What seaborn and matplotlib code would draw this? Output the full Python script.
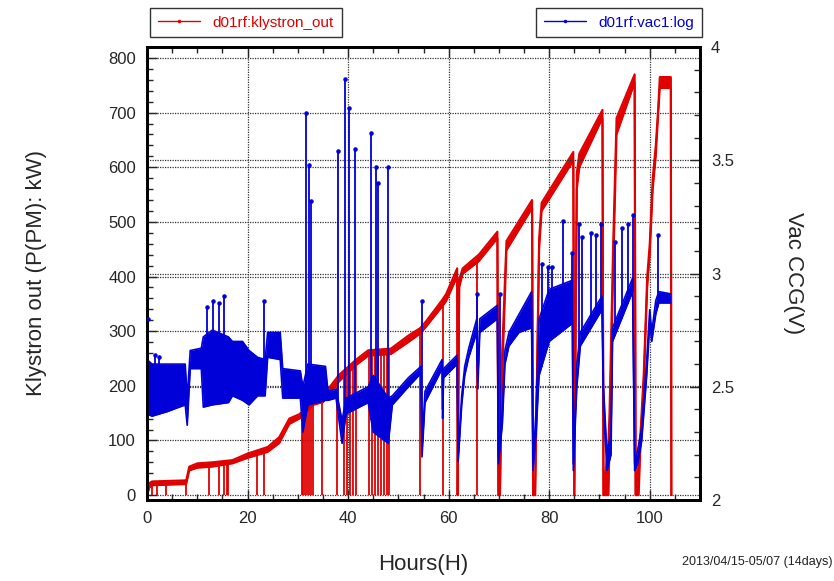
import numpy as np
import matplotlib
matplotlib.use("Agg")
import matplotlib.pyplot as plt
from matplotlib.lines import Line2D
from matplotlib.ticker import MultipleLocator
import seaborn as sns

# klystron output (kW): hour, lower / upper edge of the noisy band
red_h = [0, 0.5, 1, 7.8, 8.4, 10, 13, 17, 20, 24, 26.3, 28.3, 30.3, 30.8,
         33, 35, 38.2, 41.6, 44, 48.5, 52, 54.4, 55.5, 58.7, 59.5,
         61.7, 61.8, 62.1, 62.8, 65.6, 66, 69.7, 69.9, 70.2, 70.6, 71.5,
         76.6, 76.8, 77.2, 78, 78.5, 84.8, 85.0, 85.5, 86, 90.6, 90.8,
         91.8, 92.0, 92.7, 93.4, 97.0, 97.2, 97.8, 98.2, 98.8, 99.5, 100,
         100.6, 101.2, 101.7, 102, 104.2, 104.3]
red_lo = [0, 14, 18, 20, 45, 50, 52, 58, 68, 79, 95, 130, 140, 143,
          165, 170, 208, 238, 255, 258, 280, 296, 308, 345, 355,
          400, 0, 380, 405, 425, 428, 470, 0, 0, 200, 448,
          525, 0, 0, 450, 520, 612, 0, 560, 600, 690, 0,
          0, 100, 400, 660, 755, 0, 0, 100, 200, 380, 440,
          560, 620, 700, 745, 745, 0]
red_hi = [5, 22, 25, 27, 52, 58, 60, 64, 76, 88, 106, 140, 148, 152,
          175, 182, 220, 248, 265, 268, 292, 306, 318, 357, 368,
          415, 0, 395, 415, 437, 440, 482, 0, 0, 250, 465,
          540, 0, 0, 470, 535, 628, 0, 590, 625, 705, 0,
          100, 150, 450, 690, 770, 0, 60, 120, 220, 400, 460,
          580, 640, 710, 765, 765, 0]
red_drops = [1.0, 2.0, 3.8, 7.8, 12.4, 14.3, 15.3, 16.0, 16.2, 21.9, 23.3,
             30.8, 31.1, 31.5, 31.9, 32.3, 32.7, 33.0,
             34.9, 37.8, 39.2, 39.7, 40.3, 40.9, 41.6,
             44.2, 44.7, 45.3, 45.9, 46.5, 47.1, 47.7, 48.2,
             54.4, 58.8, 65.7]

# vacuum CCG (V): hour, lower / upper edge of the band
blue_h = [0, 1, 4, 7.6, 8.0, 8.6, 10.8, 11.2, 13, 16.2, 17, 19, 20.3, 22,
          23.5, 24, 26.5, 27, 30.5, 31, 32, 35.5, 36, 37.6, 38.8, 39.6,
          44, 45, 48, 48.8, 52, 54.5, 54.7, 55.3, 58.7, 58.8, 59.0, 61.7,
          61.9, 62.6, 63.2, 64, 65.6, 65.8, 66.2, 69.7, 69.9, 70.7, 71.2,
          72, 74, 76.5, 76.8, 77.4, 78, 80, 84.6, 84.8, 85.5, 86.2, 90.5,
          90.8, 91.5, 92.3, 92.6, 96.6, 97.0, 97.6, 98.4, 99.4, 100, 100.4,
          101.2, 101.8, 104.2]
blue_lo = [2.38, 2.37, 2.39, 2.42, 2.33, 2.58, 2.58, 2.41, 2.42, 2.43, 2.46,
           2.44, 2.42, 2.46, 2.46, 2.63, 2.62, 2.45, 2.45, 2.30, 2.42, 2.44,
           2.44, 2.45, 2.25, 2.38, 2.43, 2.30, 2.25, 2.42, 2.50, 2.56, 2.19,
           2.43, 2.58, 2.36, 2.54, 2.60, 2.17, 2.42, 2.55, 2.63, 2.74, 2.49,
           2.74, 2.80, 2.16, 2.34, 2.60, 2.68, 2.74, 2.76, 2.13, 2.30, 2.55,
           2.70, 2.78, 2.13, 2.50, 2.68, 2.84, 2.40, 2.13, 2.20, 2.70, 2.92,
           2.13, 2.16, 2.26, 2.55, 2.78, 2.70, 2.82, 2.87, 2.87]
blue_hi = [2.62, 2.60, 2.60, 2.60, 2.45, 2.66, 2.67, 2.72, 2.75, 2.72, 2.70,
           2.70, 2.66, 2.63, 2.62, 2.74, 2.74, 2.58, 2.57, 2.50, 2.60, 2.59,
           2.48, 2.49, 2.35, 2.45, 2.50, 2.55, 2.45, 2.46, 2.54, 2.59, 2.23,
           2.48, 2.62, 2.40, 2.58, 2.64, 2.20, 2.46, 2.59, 2.67, 2.80, 2.53,
           2.80, 2.86, 2.19, 2.40, 2.66, 2.74, 2.82, 2.92, 2.16, 2.40, 2.80,
           2.93, 2.97, 2.16, 2.60, 2.74, 2.90, 2.50, 2.20, 2.30, 2.76, 2.98,
           2.16, 2.22, 2.32, 2.62, 2.84, 2.74, 2.88, 2.92, 2.91]
spike_h = [0.1, 1.5, 2.3, 12.0, 13.2, 14.3, 15.4, 23.3, 31.6, 32.3, 32.6,
           37.9, 39.4, 40.2, 41.4, 44.6, 45.6, 46.0, 48.0, 54.8, 65.7, 70.3,
           78.5, 79.7, 80.6, 82.7, 84.5, 86.0, 86.6, 88.4, 89.4, 90.4, 93.0,
           94.4, 95.6, 96.6, 101.6]
spike_top = [2.80, 2.64, 2.63, 2.85, 2.88, 2.87, 2.90, 2.88, 3.71, 3.48, 3.32,
             3.54, 3.86, 3.73, 3.55, 3.62, 3.47, 3.40, 3.47, 2.88, 2.91, 2.91,
             3.04, 3.03, 3.03, 3.23, 3.09, 3.22, 3.16, 3.18, 3.17, 3.22, 3.14,
             3.20, 3.22, 3.26, 3.17]

RED = "#e00000"
BLUE = "#0000d8"

sns.set_style("ticks")
plt.rcParams["font.family"] = ["Liberation Sans", "DejaVu Sans"]

fig = plt.figure(figsize=(8.34, 5.81), dpi=100)
ax = fig.add_axes([147 / 834, 81 / 581, 553 / 834, 453 / 581])
ax2 = ax.twinx()

# red: klystron power on left axis
ax.fill_between(red_h, red_lo, red_hi, color=RED, lw=0)
sns.lineplot(x=red_h, y=red_hi, ax=ax, color=RED, lw=1.5, sort=False, estimator=None)
sns.lineplot(x=red_h, y=red_lo, ax=ax, color=RED, lw=1.5, sort=False, estimator=None)
ax.vlines(red_drops, 0, np.interp(red_drops, red_h, red_hi), color=RED, lw=1.3)

# blue: vacuum on right axis
ax2.fill_between(blue_h, blue_lo, blue_hi, color=BLUE, lw=0)
sns.lineplot(x=blue_h, y=blue_hi, ax=ax2, color=BLUE, lw=1.2, sort=False, estimator=None)
sns.lineplot(x=blue_h, y=blue_lo, ax=ax2, color=BLUE, lw=1.2, sort=False, estimator=None)
ax2.vlines(spike_h, np.interp(spike_h, blue_h, blue_lo), spike_top, color=BLUE, lw=1.3)
ax2.scatter(spike_h, spike_top, color=BLUE, s=5, zorder=3)

ax.set_xlim(0, 110)
ax.set_ylim(-9, 820)
ax2.set_ylim(2, 4)

ax.xaxis.set_major_locator(MultipleLocator(20))
ax.xaxis.set_minor_locator(MultipleLocator(5))
ax.yaxis.set_major_locator(MultipleLocator(100))
ax.yaxis.set_minor_locator(MultipleLocator(20))
ax2.yaxis.set_major_locator(MultipleLocator(0.5))
ax2.yaxis.set_minor_locator(MultipleLocator(0.1))
ax2.set_yticks([2, 2.5, 3, 3.5, 4], ["2", "2.5", "3", "3.5", "4"])

ax.tick_params(which="both", direction="in", top=True, right=False, labelsize=12, pad=8)
ax.tick_params(which="major", length=7, width=1)
ax.tick_params(which="minor", length=4, width=1)
ax2.tick_params(which="both", direction="in", labelsize=12, pad=8)
ax2.tick_params(which="major", length=7, width=1)
ax2.tick_params(which="minor", length=4, width=1)

grid_kw = dict(color="#333333", linestyle=(0, (1, 1)), linewidth=0.9)
ax.grid(True, which="major", **grid_kw)
ax2.grid(True, which="major", axis="y", **grid_kw)
ax2.set_axisbelow(True)
for a in (ax, ax2):
    for s in a.spines.values():
        s.set_linewidth(2)
        s.set_color("black")

ax.set_xlabel("Hours(H)", fontsize=16, labelpad=20)
ax.set_ylabel("Klystron out (P(PM): kW)", fontsize=16, labelpad=44)
ax2.set_ylabel("Vac CCG(V)", fontsize=16, rotation=270, labelpad=50)

fig.text(833 / 834, 1 - 562 / 581, "2013/04/15-05/07 (14days)", ha="right",
         va="center", fontsize=9, color="#222222")

h_red = Line2D([], [], color=RED, lw=1, marker=".", markersize=3)
h_blue = Line2D([], [], color=BLUE, lw=1, marker=".", markersize=3)
leg_kw = dict(frameon=True, fancybox=False, fontsize=11, handlelength=2.8,
              borderpad=0.5, borderaxespad=0, edgecolor="black")
l1 = fig.legend([h_red], ["d01rf:klystron_out"], loc="upper left",
                bbox_to_anchor=(150 / 834, 1 - 8 / 581), labelcolor=RED, **leg_kw)
l2 = fig.legend([h_blue], ["d01rf:vac1:log"], loc="upper right",
                bbox_to_anchor=(702 / 834, 1 - 8 / 581), labelcolor=BLUE, **leg_kw)
for l in (l1, l2):
    l.get_frame().set_linewidth(1)

fig.savefig("out.png", dpi=100)
